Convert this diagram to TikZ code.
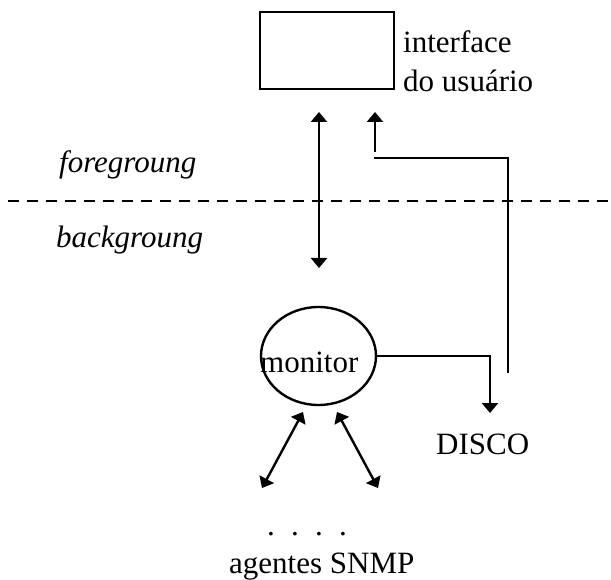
\documentclass[tikz,border=0pt]{standalone}
\usepackage{fontspec}
\setmainfont{Liberation Serif}
\usetikzlibrary{arrows.meta,shapes.geometric}
\begin{document}
\begin{tikzpicture}[x=1pt,y=-1pt, line width=2.4pt,
  lbl/.style={inner sep=0pt, anchor=base west, font=\fontsize{31pt}{37pt}\selectfont},
  ilbl/.style={lbl, font=\fontsize{31pt}{37pt}\selectfont\itshape},
  tip/.style={-{Triangle[length=10pt,width=16pt]}},
  dtip/.style={{Triangle[length=10pt,width=16pt]}-{Triangle[length=10pt,width=16pt]}}]
\useasboundingbox (0,0) rectangle (611,580);
% boxes
\node[draw, minimum width=134pt, minimum height=77pt, inner sep=0pt] (ui) at (327,50.5) {};
\node[draw, ellipse, minimum width=115pt, minimum height=98pt, inner sep=0pt] (mon) at (318.5,356) {};
% texts
\node[lbl] (uitext1) at (402,53) {interface};
\node[lbl] (uitext2) at (402,92) {do usuário};
\node[ilbl] (fg) at (58,173) {foregroung};
\node[ilbl] (bg) at (55,248) {backgroung};
\node[lbl] (montext) at (259,373) {monitor};
\node[lbl] (disco) at (435,454) {DISCO};
\node[lbl] (dots) at (266,535) {.\hspace{16.25pt}.\hspace{16.25pt}.\hspace{16.25pt}.};
\node[lbl] (agents) at (228,573) {agentes SNMP};
% dashed separator
\coordinate (dl) at (8,201);
\coordinate (dr) at (611,201);
\draw[line width=1.4pt, dash pattern=on 11pt off 8pt] (dl) -- (dr);
% connectors
\coordinate (a1) at (319,112);
\coordinate (a2) at (319,268);
\draw[dtip] (a1) -- (a2);
\coordinate (b0) at (508,373);
\coordinate (b1) at (508,158);
\coordinate (b2) at (374,158);
\coordinate (b3) at (375,152);
\coordinate (b4) at (375,112);
\draw (b0) -- (b1) -- (b2);
\draw[tip] (b3) -- (b4);
\coordinate (c2) at (490,413);
\draw[tip] (mon.east) -| (c2);
\coordinate (l1) at (303,412);
\coordinate (l2) at (262,488);
\coordinate (r1) at (337,412);
\coordinate (r2) at (378,488);
\draw[dtip] (l1) -- (l2);
\draw[dtip] (r1) -- (r2);
\end{tikzpicture}
\end{document}
